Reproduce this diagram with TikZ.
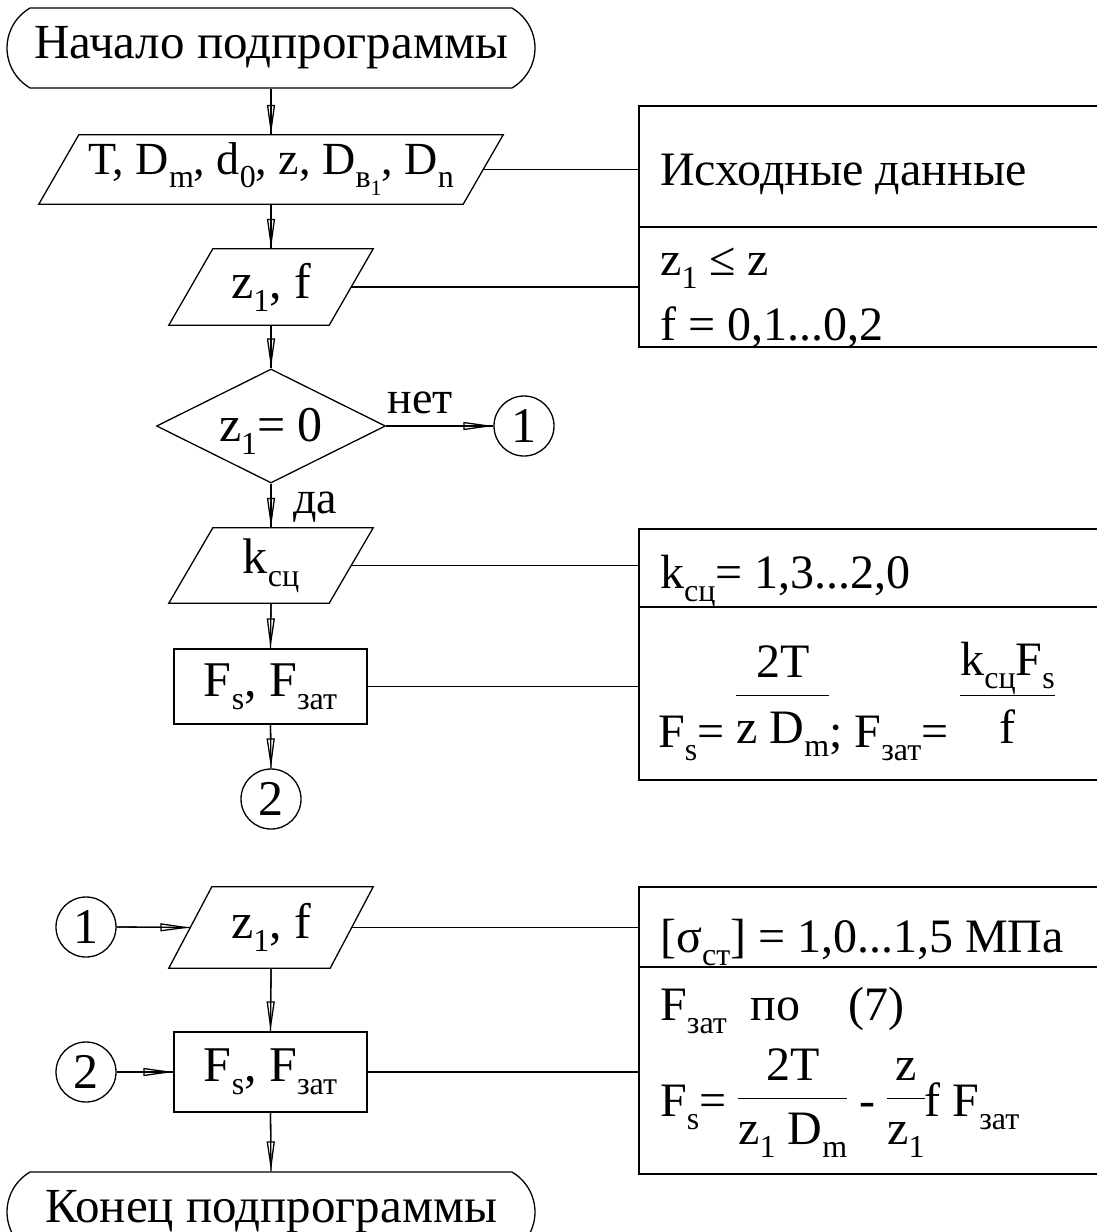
\documentclass[tikz,border=0pt]{standalone}
\usepackage{fontspec}
\setmainfont{Liberation Serif}
\usetikzlibrary{shapes.geometric,shapes.misc,arrows.meta,calc}
\setlength{\arrayrulewidth}{1.3pt}
\newcommand{\lsub}[1]{\raisebox{-13pt}{\fontsize{32}{38}\selectfont #1}}
\newcommand{\llsub}[1]{\raisebox{-8pt}{\fontsize{22}{26}\selectfont #1}}
\newcommand{\myfrac}[4]{\raisebox{#1}{\begin{tabular}[b]{@{}c@{}}#3\\\hline\rule{0pt}{#2}#4\end{tabular}}}
\newcommand{\zerobox}[2]{\smash{\raisebox{-#1}{\makebox[0pt]{#2}}}}
\newcommand{\drawpara}[2]{%
  \draw[line] ($(#1.north west)+(#2,0)$) -- ($(#1.north east)+(#2,0)$)
     -- ($(#1.south east)-(#2,0)$) -- ($(#1.south west)-(#2,0)$) -- cycle;}
\tikzset{
  line/.style={line width=1.3pt, black},
  base/.style={font=\fontsize{50}{60}\selectfont, inner sep=0pt},
  term/.style={base, font=\fontsize{49}{59}\selectfont, line, draw, rounded rectangle,
               rounded rectangle arc length=120, minimum width=528, minimum height=80},
  io/.style={base, rectangle},
  proc/.style={base, line, draw, rectangle},
  decision/.style={base, line, draw, diamond, minimum width=229, minimum height=114},
  conn/.style={base, line, draw, circle, minimum size=60},
  note/.style={base, font=\fontsize{48}{57}\selectfont, anchor=base west},
  lbl/.style={base, font=\fontsize{46}{55}\selectfont, anchor=base},
  flow/.style={line, -{Triangle[open,length=30pt,width=8pt]}, postaction={draw, line, arrows=-}},
}
\begin{document}
\begin{tikzpicture}[x=1pt, y=-1pt]
\useasboundingbox (0,0) rectangle (1097,1232);

% left column nodes
\node[term] (start) at (271,48) {Начало подпрограммы};
\node[io, font=\fontsize{46}{55}\selectfont, minimum width=424, minimum height=69] (p1) at (271,169.5)
  {T, D\lsub{m}, d\lsub{0}, z, D\lsub{в\llsub{1}}, D\lsub{n}};
\drawpara{p1}{20}
\node[io, minimum width=160, minimum height=76] (p2) at (271,287) {z\lsub{1}, f};
\drawpara{p2}{22}
\node[decision] (d) at (271,426) {\zerobox{15pt}{z\lsub{1}= 0}};
\node[conn] (c1) at (524,426) {1};
\node[io, minimum width=160, minimum height=75] (p3) at (271,565.5) {k\lsub{сц}};
\drawpara{p3}{22}
\node[proc, minimum width=193, minimum height=75] (b1) at (270.5,686.5) {F\lsub{s}, F\lsub{зат}};
\node[conn] (c2) at (271,799) {2};

\node[conn] (c1b) at (86,927) {1};
\node[io, minimum width=161, minimum height=81] (p4) at (271,927.5) {z\lsub{1}, f};
\drawpara{p4}{21.5}
\node[conn] (c2b) at (86,1072) {2};
\node[proc, minimum width=193, minimum height=80] (b2) at (270.5,1072) {F\lsub{s}, F\lsub{зат}};
\node[term] (end) at (271,1212) {Конец подпрограммы};

% labels
\node[lbl] (no) at (420,413) {нет};
\node[lbl] (yes) at (315,513) {да};

% flow arrows
\draw[flow] (start.south) -- (p1.north);
\draw[flow] (p1.south) -- (p2.north);
\draw[flow] (p2.south) -- (d.north);
\draw[flow] (d.south) -- (p3.north);
\draw[flow] (d.east) -- (c1.west);
\draw[flow] (p3.south) -- (b1.north);
\draw[flow] (b1.south) -- (c2.north);
\draw[flow] (c1b.east) -- (p4.west);
\draw[flow] (p4.south) -- (b2.north);
\draw[flow] (c2b.east) -- (b2.west);
\draw[flow] (b2.south) -- (end.north);

% comment frames
\coordinate (aL) at (639,0);
\draw[line] (1097,106) -- (639,106) -- (639,347) -- (1097,347);
\draw[line] (639,227) -- (1097,227);
\draw[line] (1097,529) -- (639,529) -- (639,780) -- (1097,780);
\draw[line] (639,607) -- (1097,607);
\draw[line] (1097,887) -- (639,887) -- (639,1174) -- (1097,1174);
\draw[line] (639,967) -- (1097,967);

\draw[line] (p1.east) -- (p1.east -| aL);
\draw[line] (p2.east) -- (p2.east -| aL);
\draw[line] (p3.east) -- (p3.east -| aL);
\draw[line] (b1.east) -- (b1.east -| aL);
\draw[line] (p4.east) -- (p4.east -| aL);
\draw[line] (b2.east) -- (b2.east -| aL);

% comment texts
\node[note] (n1) at (660,185) {Исходные данные};
\node[note] (n2) at (660,275) {z\lsub{1} ≤ z};
\node[note] (n3) at (660,340) {f = 0,1...0,2};
\node[note] (n4) at (660,588) {k\lsub{сц}= 1,3...2,0};
\node[note] (n5) at (658,747) {F\lsub{s}= \myfrac{4pt}{47pt}{2T}{z D\lsub{m}}; F\lsub{зат}= \myfrac{4pt}{47pt}{k\lsub{сц}F\lsub{s}}{f}};
\node[note] (n6) at (660,952) {[σ\lsub{ст}] = 1,0...1,5 МПа};
\node[note] (n7) at (660,1020) {F\lsub{зат}\hspace{24pt}по\hspace{48pt}(7)};
\node[note] (n8) at (660,1116) {F\lsub{s}= \myfrac{-28pt}{45pt}{2T}{z\lsub{1} D\lsub{m}} - \myfrac{-28pt}{45pt}{z}{z\lsub{1}}f F\lsub{зат}};
\end{tikzpicture}
\end{document}
